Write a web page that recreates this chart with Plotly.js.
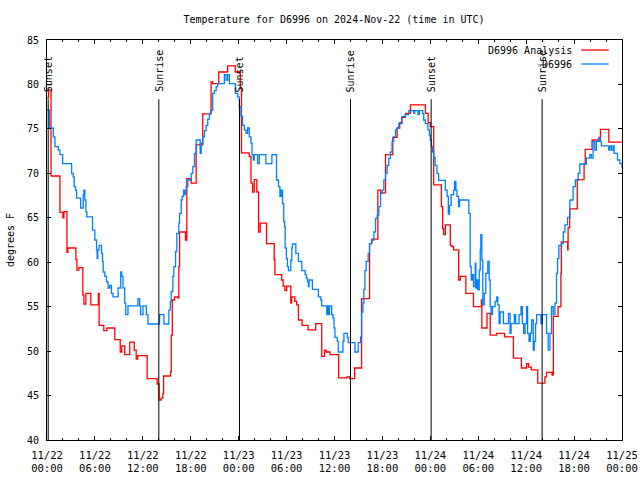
<!DOCTYPE html>
<html>
<head>
<meta charset="utf-8">
<script src="https://cdn.plot.ly/plotly-3.0.1.min.js"></script>
<style>html,body{margin:0;padding:0;background:#fff}#chart{width:640px;height:480px}</style>
</head>
<body>
<div id="chart"></div>
<script>
// ---- data (hours after 2024-11-22 00:00 UTC) ----
const startDay = '2024-11-22';
const seriesNames = ['D6996 Analysis', 'D6996'];

const analysisHours = [0.00,0.19,0.50,1.62,2.00,2.12,2.50,2.62,3.62,3.74,3.99,4.49,4.62,4.87,5.49,6.43,6.53,7.11,7.49,8.49,9.17,9.36,9.73,10.36,10.92,11.17,11.36,12.54,13.79,14.04,14.29,14.51,14.60,15.47,15.56,15.69,15.97,16.38,16.51,16.60,17.34,17.51,18.06,18.68,19.50,20.55,20.75,21.50,22.62,23.58,24.20,24.35,25.33,25.54,25.74,25.95,26.27,26.49,26.70,27.49,28.45,28.54,29.39,29.57,29.79,30.01,30.53,30.63,31.03,31.26,31.48,31.94,32.69,33.65,34.40,34.75,34.94,35.44,36.52,37.56,37.87,38.52,39.39,40.39,40.68,41.43,41.80,42.39,43.30,43.84,44.17,44.42,44.88,45.51,47.38,47.73,48.00,48.42,49.38,49.54,49.66,49.88,50.50,50.70,50.91,51.55,51.75,52.45,53.40,54.40,54.45,55.10,55.50,56.30,57.30,58.40,59.40,60.05,60.30,60.65,61.45,62.35,62.55,63.25,63.40,64.00,64.35,64.40,65.20,65.25,65.45,66.40,67.25,67.40,68.25,69.30,70.35,72.00];
const analysisTemps = [78.5,79.4,69.7,65.6,65.0,65.7,61.1,61.6,60.3,59.1,59.4,56.3,55.3,56.5,55.2,56.5,52.9,52.3,52.6,51.3,49.9,50.6,49.6,51.0,50.1,49.1,49.5,46.9,46.3,44.5,44.7,45.25,47.2,47.7,51.8,55.75,56.1,56.0,59.5,63.4,62.5,69.4,68.9,73.2,76.7,80.3,80.1,81.4,82.1,81.4,79.6,72.3,71.9,68.9,67.9,69.3,67.9,63.4,64.4,62.1,60.3,58.6,58.0,57.3,56.8,57.3,55.4,56.1,55.6,55.2,53.5,52.9,52.4,53.1,49.4,50.1,49.9,49.6,47.0,47.1,46.9,48.1,55.9,62.1,62.6,68.1,67.8,72.1,74.05,75.1,75.7,76.3,76.75,77.7,76.75,75.7,75.25,68.7,66.25,63.8,63.1,64.2,61.9,61.75,61.4,58.0,58.4,56.5,55.0,55.75,52.6,54.25,51.8,52.0,51.6,49.2,48.1,48.6,48.2,47.9,46.4,47.1,47.6,47.3,53.9,55.0,58.75,62.3,61.4,63.9,66.0,69.3,71.0,72.7,73.75,74.95,73.5,73.5];

const obsHours = [0.00,0.29,0.79,1.00,1.41,1.62,1.96,3.08,3.28,3.41,3.58,3.71,4.21,4.53,4.62,4.74,4.87,4.99,5.70,5.99,6.20,6.28,6.36,6.53,6.83,6.95,7.03,7.24,7.45,7.65,7.86,8.07,8.27,8.90,9.23,9.36,9.52,9.73,9.86,10.14,11.39,11.60,11.73,12.02,12.44,12.64,14.10,14.64,15.26,15.44,15.56,15.76,15.88,16.10,16.26,16.51,16.60,16.81,16.93,17.10,17.22,17.34,17.43,17.63,18.06,18.26,18.47,18.68,19.18,19.31,19.50,19.72,19.93,20.13,20.34,20.55,20.75,20.96,21.18,21.38,22.21,22.42,22.62,22.84,23.58,23.87,24.08,24.29,24.49,24.71,24.92,25.12,25.33,25.54,25.67,25.83,25.95,26.37,26.58,27.41,28.16,28.74,28.99,29.16,29.32,29.49,29.64,29.76,29.82,29.98,30.11,30.23,30.53,30.66,30.73,31.16,31.48,31.91,32.32,32.48,32.61,32.73,32.82,33.23,33.98,34.28,34.40,35.03,35.13,35.25,35.38,35.65,35.81,35.94,36.06,36.35,36.47,37.06,37.18,37.60,37.72,38.56,38.97,39.27,39.39,39.56,39.68,39.81,39.97,40.22,40.39,40.64,40.93,41.14,41.34,41.55,41.77,41.97,42.18,42.39,42.59,42.80,43.01,43.21,43.42,43.64,43.84,44.05,44.46,44.88,45.30,45.92,46.04,46.46,46.63,47.04,47.17,47.38,47.70,47.88,48.00,48.13,48.29,48.42,48.60,48.83,49.04,49.88,50.10,50.25,50.40,50.60,50.91,51.04,51.20,51.33,51.54,51.66,52.82,52.99,53.12,53.28,53.41,53.62,53.70,53.82,53.95,54.12,54.25,54.32,54.45,54.57,54.75,54.94,55.19,55.37,55.49,55.62,55.78,56.12,56.32,56.44,56.61,56.74,57.15,57.78,57.99,58.11,58.52,58.69,59.11,59.36,59.52,59.68,59.86,60.06,60.18,60.36,60.52,60.68,60.89,61.02,61.18,61.31,61.85,62.02,62.55,62.76,62.98,63.18,63.39,63.60,63.80,63.93,64.10,64.43,64.64,64.85,65.18,65.47,65.88,66.17,66.51,66.72,67.54,67.97,68.17,68.38,68.59,68.79,69.09,69.22,69.42,70.34,70.47,70.67,70.88,71.01,71.43,71.73,72.00];
const obsTemps = [77.1,75.1,74.1,73.0,72.6,72.1,71.1,70.0,69.6,68.5,68.1,67.2,66.1,67.6,68.1,67.0,65.7,65.1,63.6,62.5,61.4,60.4,61.4,61.9,61.0,60.1,58.9,58.4,57.8,57.1,57.4,56.5,56.1,57.1,58.9,58.4,57.1,55.4,54.1,55.1,55.9,55.1,54.1,55.1,54.1,53.05,54.1,53.05,54.6,55.6,56.7,58.4,59.5,61.2,63.25,64.4,65.5,67.0,67.4,68.1,67.6,68.1,68.5,69.25,70.0,70.75,72.25,73.75,72.25,73.4,74.1,74.8,75.4,76.1,76.75,77.1,79.0,79.3,79.75,80.1,81.1,80.5,81.1,80.1,79.0,78.6,77.5,76.4,75.4,74.9,74.5,75.1,74.1,73.4,72.1,71.5,72.1,71.1,72.1,71.1,72.1,69.25,68.5,67.4,68.1,66.6,64.6,64.0,61.6,60.4,59.5,59.05,60.25,61.6,62.05,61.0,60.1,59.05,58.6,58.2,57.8,57.25,58.0,56.95,56.1,55.75,55.1,54.1,55.1,54.1,55.1,54.1,53.7,52.6,51.55,51.1,49.9,51.1,52.0,51.55,50.95,49.9,50.95,51.6,54.4,55.4,56.95,59.05,60.1,61.0,62.1,62.5,63.4,64.9,65.3,66.25,67.75,68.1,69.25,70.0,70.9,71.7,72.4,73.6,74.1,74.9,75.1,75.6,76.4,76.6,77.05,76.75,77.05,76.6,77.05,76.75,76.0,75.6,74.9,74.3,73.75,73.0,72.4,71.8,70.9,70.0,69.2,68.1,67.4,65.4,66.4,67.6,68.1,69.1,68.1,67.4,66.25,67.0,65.5,59.5,58.0,58.6,57.25,59.9,57.1,58.0,56.9,59.1,61.4,63.1,60.25,55.2,56.5,58.75,60.1,58.0,55.0,54.1,55.0,55.6,56.1,55.2,53.1,54.4,53.1,54.25,52.0,53.1,54.1,53.1,54.1,55.0,53.1,52.0,53.1,55.0,52.0,51.1,52.0,53.5,50.1,51.1,53.1,54.1,53.1,54.1,52.0,50.1,52.0,55.0,54.1,55.4,58.75,60.4,61.9,62.1,63.4,64.2,65.05,67.0,68.5,69.25,70.0,71.05,71.7,72.1,71.7,73.6,72.6,73.6,74.05,73.6,73.1,72.6,73.1,72.6,73.1,72.25,71.5,71.1,70.6];

const sunEventHours = [0.15, 14.0, 24.1, 38.0, 48.1, 62.0];
const sunEventLabels = ['Sunset', 'Sunrise', 'Sunset', 'Sunrise', 'Sunset', 'Sunrise'];

const tickHours = [0, 6, 12, 18, 24, 30, 36, 42, 48, 54, 60, 66, 72];
const tickLabels = ['11/22<br>00:00','11/22<br>06:00','11/22<br>12:00','11/22<br>18:00','11/23<br>00:00','11/23<br>06:00','11/23<br>12:00','11/23<br>18:00','11/24<br>00:00','11/24<br>06:00','11/24<br>12:00','11/24<br>18:00','11/25<br>00:00'];
const yTickValues = [40, 45, 50, 55, 60, 65, 70, 75, 80, 85];

// ---- helpers ----
const base = Date.UTC(2024, 10, 22);
const toTime = h => base + h * 3600000;
const colors = ['#ff0000', '#0080ff'];
const FONT = 'DejaVu Sans Mono, Liberation Mono, monospace';

const traces = [
  {x: analysisHours.map(toTime), y: analysisTemps, name: seriesNames[0], type: 'scatter', mode: 'lines',
   line: {color: colors[0], width: 1.3, shape: 'hv'}, hoverinfo: 'skip'},
  {x: obsHours.map(toTime), y: obsTemps, name: seriesNames[1], type: 'scatter', mode: 'lines',
   line: {color: colors[1], width: 1.3, shape: 'hv'}, hoverinfo: 'skip'}
];

const shapes = sunEventHours.map(h => ({
  type: 'line', xref: 'x', yref: 'paper', x0: toTime(h), x1: toTime(h), y0: 0, y1: 0.852,
  line: {color: '#000', width: 1}
}));
const annotations = sunEventHours.map((h, i) => ({
  x: toTime(h), xref: 'x', y: 0.865, yref: 'paper', text: sunEventLabels[i],
  textangle: -90, showarrow: false, xanchor: 'center', yanchor: 'bottom',
  font: {family: FONT, size: 10, color: '#000'}
}));
// legend (text left of sample, like the original)
const legendY = [0.975, 0.94];
seriesNames.forEach((n, i) => {
  annotations.push({x: 0.916, xref: 'paper', y: legendY[i], yref: 'paper', text: n, showarrow: false,
    xanchor: 'right', yanchor: 'middle', font: {family: FONT, size: 10, color: '#000'}});
  shapes.push({type: 'line', xref: 'paper', yref: 'paper', x0: 0.929, x1: 0.977, y0: legendY[i], y1: legendY[i],
    line: {color: colors[i], width: 1.3}});
});

const layout = {
  width: 640, height: 480,
  margin: {l: 47, r: 18, t: 40, b: 40, pad: 0},
  paper_bgcolor: '#fff', plot_bgcolor: '#fff',
  showlegend: false,
  font: {family: FONT, size: 10, color: '#000'},
  title: {text: 'Temperature for D6996 on 2024-Nov-22 (time in UTC)', x: 0.522, xanchor: 'center', y: 0.96, yanchor: 'middle',
          font: {family: FONT, size: 10, color: '#000'}},
  xaxis: {
    type: 'date', range: [toTime(0), toTime(72)],
    tickvals: tickHours.map(toTime), ticktext: tickLabels,
    ticks: 'inside', ticklen: 4, tickcolor: '#000', tickwidth: 1,
    minor: {dtick: 7200000, ticks: 'inside', ticklen: 2, tickcolor: '#000', showgrid: false},
    showline: true, linecolor: '#000', linewidth: 1, mirror: 'ticks',
    showgrid: false, zeroline: false, fixedrange: true,
    ticklabelstandoff: 5,
    tickfont: {family: FONT, size: 10.5, color: '#000'}
  },
  yaxis: {
    range: [40, 85], tickvals: yTickValues,
    ticks: 'inside', ticklen: 4, tickcolor: '#000', tickwidth: 1,
    showline: true, linecolor: '#000', linewidth: 1, mirror: 'ticks',
    showgrid: false, zeroline: false, fixedrange: true,
    ticklabelstandoff: 5,
    tickfont: {family: FONT, size: 10, color: '#000'},
    title: {text: 'degrees F', standoff: 10, font: {family: FONT, size: 10, color: '#000'}}
  },
  shapes: shapes,
  annotations: annotations
};

Plotly.newPlot('chart', traces, layout, {staticPlot: true, displayModeBar: false});
</script>
</body>
</html>
